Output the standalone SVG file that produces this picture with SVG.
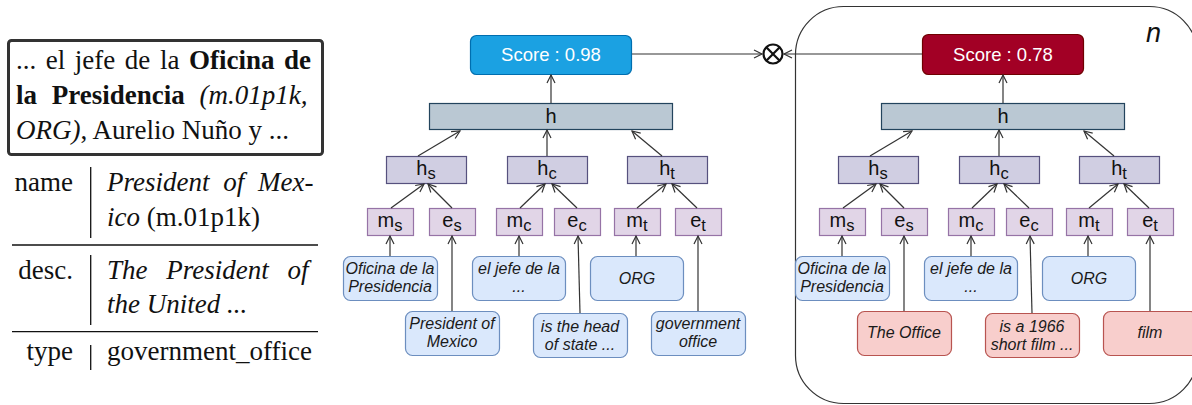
<svg xmlns="http://www.w3.org/2000/svg" width="1192" height="405" viewBox="0 0 1192 405">
<defs>
<marker id="ar" markerUnits="userSpaceOnUse" markerWidth="12" markerHeight="12" refX="9" refY="5" orient="auto">
<path d="M1,1 L9,5 L1,9" fill="none" stroke="#333" stroke-width="1.2"/>
</marker>
<style>
.tx{font-family:"Liberation Serif","Times New Roman",serif;font-size:27px;fill:#111}
.b{font-weight:bold}
.i{font-style:italic}
.rule{stroke:#111;stroke-width:1.3}
.score{font-family:"Liberation Sans",Arial,sans-serif;font-size:18.5px;fill:#fff;text-anchor:middle}
.lbl{font-family:"Liberation Sans",Arial,sans-serif;font-size:20px;fill:#111;text-anchor:middle}
.sm{font-family:"Liberation Sans",Arial,sans-serif;font-size:16px;font-style:italic;fill:#1a1a1a;text-anchor:middle}
.hbox{fill:#bac8d3;stroke:#23445d;stroke-width:1.2}
.lav{fill:#d0cee2;stroke:#56517e;stroke-width:1.2}
.pur{fill:#e1d5e7;stroke:#9673a6;stroke-width:1.2}
.blu{fill:#dae8fc;stroke:#6c8ebf;stroke-width:1.2}
.red{fill:#f8cecc;stroke:#b85450;stroke-width:1.2}
.cn line{stroke:#333;stroke-width:1.2;marker-end:url(#ar)}
</style>
</defs>
<rect width="1192" height="405" fill="#fff"/>

<g id="context">
<rect x="8.5" y="40.5" width="314" height="114" rx="3" fill="none" stroke="#333" stroke-width="3"/>
<text class="tx" x="16" y="69" word-spacing="2.8">... el jefe de la <tspan class="b">Oficina de</tspan></text>
<text class="tx" x="16" y="104" word-spacing="8"><tspan class="b">la Presidencia</tspan><tspan class="i"> (m.01p1k,</tspan></text>
<text class="tx" x="16" y="139"><tspan class="i">ORG)</tspan>, Aurelio Nuño y ...</text>
</g>

<g id="entity-table">
<text class="tx" x="73" y="191" text-anchor="end">name</text>
<text class="tx i" x="107" y="191" word-spacing="7">President of Mex-</text>
<text class="tx" x="107" y="226"><tspan class="i">ico</tspan> (m.01p1k)</text>
<line class="rule" x1="90.7" y1="167" x2="90.7" y2="238"/>
<line class="rule" x1="12" y1="245" x2="318" y2="245"/>
<text class="tx" x="73" y="279" text-anchor="end">desc.</text>
<text class="tx i" x="107" y="279" word-spacing="12">The President of</text>
<text class="tx i" x="107" y="313">the United ...</text>
<line class="rule" x1="90.7" y1="255" x2="90.7" y2="325"/>
<line class="rule" x1="12" y1="331.7" x2="318" y2="331.7"/>
<text class="tx" x="73" y="360" text-anchor="end">type</text>
<text class="tx" x="107" y="360">government_office</text>
<line class="rule" x1="90.7" y1="345" x2="90.7" y2="370"/>
</g>

<g id="plate">
<rect x="795.5" y="6.5" width="402" height="397" rx="48" fill="none" stroke="#333" stroke-width="1.2"/>
<text x="1146" y="41.5" font-family="Liberation Sans,Arial,sans-serif" font-size="27" font-style="italic" fill="#111">n</text>
</g>

<g id="otimes">
<circle cx="773" cy="54" r="9.5" fill="#fff" stroke="#111" stroke-width="2.2"/>
<line x1="766.3" y1="47.3" x2="779.7" y2="60.7" stroke="#111" stroke-width="2.2"/>
<line x1="779.7" y1="47.3" x2="766.3" y2="60.7" stroke="#111" stroke-width="2.2"/>
</g>

<g id="left-model">
<g id="score-left"><rect x="470.5" y="35.5" width="161" height="39" rx="6" fill="#1ba1e2" stroke="#006eaf" stroke-width="1.2"/><text class="score" x="551" y="61">Score : 0.98</text></g>
<g id="h-left"><rect class="hbox" x="429.5" y="103.5" width="243" height="26"/><text class="lbl" x="551" y="123">h</text></g>
<g id="hs-left"><rect class="lav" x="386.5" y="156.5" width="80" height="27"/><text class="lbl" x="426" y="175">h<tspan font-size="16.5" dy="4">s</tspan></text></g>
<g id="hc-left"><rect class="lav" x="507.5" y="156.5" width="80" height="27"/><text class="lbl" x="547" y="175">h<tspan font-size="16.5" dy="4">c</tspan></text></g>
<g id="ht-left"><rect class="lav" x="627.5" y="156.5" width="80" height="27"/><text class="lbl" x="667" y="175">h<tspan font-size="16.5" dy="4">t</tspan></text></g>
<g id="ms-left"><rect class="pur" x="367.5" y="208.5" width="46" height="27"/><text class="lbl" x="390" y="227">m<tspan font-size="16.5" dy="4">s</tspan></text></g>
<g id="es-left"><rect class="pur" x="429.5" y="208.5" width="46" height="27"/><text class="lbl" x="452" y="227">e<tspan font-size="16.5" dy="4">s</tspan></text></g>
<g id="mc-left"><rect class="pur" x="496.5" y="208.5" width="46" height="27"/><text class="lbl" x="519" y="227">m<tspan font-size="16.5" dy="4">c</tspan></text></g>
<g id="ec-left"><rect class="pur" x="554.5" y="208.5" width="46" height="27"/><text class="lbl" x="577" y="227">e<tspan font-size="16.5" dy="4">c</tspan></text></g>
<g id="mt-left"><rect class="pur" x="614.5" y="208.5" width="46" height="27"/><text class="lbl" x="637" y="227">m<tspan font-size="16.5" dy="4">t</tspan></text></g>
<g id="et-left"><rect class="pur" x="675.5" y="208.5" width="46" height="27"/><text class="lbl" x="698" y="227">e<tspan font-size="16.5" dy="4">t</tspan></text></g>
<g id="mention-left"><rect class="blu" x="343.5" y="256.5" width="94" height="44" rx="7"/><text class="sm" x="390" y="274">Oficina de la</text><text class="sm" x="390" y="292">Presidencia</text></g>
<g id="context-left"><rect class="blu" x="472.5" y="256.5" width="93" height="44" rx="7"/><text class="sm" x="519" y="274">el jefe de la</text><text class="sm" x="519" y="292">...</text></g>
<g id="type-left"><rect class="blu" x="590.5" y="256.5" width="93" height="44" rx="7"/><text class="sm" x="637" y="284">ORG</text></g>
<g id="ename-left"><rect class="blu" x="405.5" y="311.5" width="94" height="44" rx="7"/><text class="sm" x="452" y="329">President of</text><text class="sm" x="452" y="347">Mexico</text></g>
<g id="edesc-left"><rect class="blu" x="533.5" y="313.5" width="94" height="44" rx="7"/><text class="sm" x="580" y="332">is the head</text><text class="sm" x="580" y="350">of state ...</text></g>
<g id="etype-left"><rect class="blu" x="651.5" y="311.5" width="94" height="44" rx="7"/><text class="sm" x="698" y="329">government</text><text class="sm" x="698" y="347">office</text></g>
</g>

<g id="right-model">
<g id="score-right"><rect x="922.5" y="34.5" width="161" height="40" rx="6" fill="#a20025" stroke="#6f0000" stroke-width="1.2"/><text class="score" x="1003" y="61">Score : 0.78</text></g>
<g id="h-right"><rect class="hbox" x="881.5" y="103.5" width="243" height="26"/><text class="lbl" x="1003" y="123">h</text></g>
<g id="hs-right"><rect class="lav" x="838.5" y="156.5" width="80" height="27"/><text class="lbl" x="878" y="175">h<tspan font-size="16.5" dy="4">s</tspan></text></g>
<g id="hc-right"><rect class="lav" x="959.5" y="156.5" width="80" height="27"/><text class="lbl" x="999" y="175">h<tspan font-size="16.5" dy="4">c</tspan></text></g>
<g id="ht-right"><rect class="lav" x="1079.5" y="156.5" width="80" height="27"/><text class="lbl" x="1119" y="175">h<tspan font-size="16.5" dy="4">t</tspan></text></g>
<g id="ms-right"><rect class="pur" x="819.5" y="208.5" width="46" height="27"/><text class="lbl" x="842" y="227">m<tspan font-size="16.5" dy="4">s</tspan></text></g>
<g id="es-right"><rect class="pur" x="881.5" y="208.5" width="46" height="27"/><text class="lbl" x="904" y="227">e<tspan font-size="16.5" dy="4">s</tspan></text></g>
<g id="mc-right"><rect class="pur" x="948.5" y="208.5" width="46" height="27"/><text class="lbl" x="971" y="227">m<tspan font-size="16.5" dy="4">c</tspan></text></g>
<g id="ec-right"><rect class="pur" x="1006.5" y="208.5" width="46" height="27"/><text class="lbl" x="1029" y="227">e<tspan font-size="16.5" dy="4">c</tspan></text></g>
<g id="mt-right"><rect class="pur" x="1066.5" y="208.5" width="46" height="27"/><text class="lbl" x="1089" y="227">m<tspan font-size="16.5" dy="4">t</tspan></text></g>
<g id="et-right"><rect class="pur" x="1127.5" y="208.5" width="46" height="27"/><text class="lbl" x="1150" y="227">e<tspan font-size="16.5" dy="4">t</tspan></text></g>
<g id="mention-right"><rect class="blu" x="795.5" y="256.5" width="94" height="44" rx="7"/><text class="sm" x="842" y="274">Oficina de la</text><text class="sm" x="842" y="292">Presidencia</text></g>
<g id="context-right"><rect class="blu" x="924.5" y="256.5" width="93" height="44" rx="7"/><text class="sm" x="971" y="274">el jefe de la</text><text class="sm" x="971" y="292">...</text></g>
<g id="type-right"><rect class="blu" x="1042.5" y="256.5" width="93" height="44" rx="7"/><text class="sm" x="1089" y="284">ORG</text></g>
<g id="ename-right"><rect class="red" x="857.5" y="311.5" width="94" height="44" rx="7"/><text class="sm" x="904" y="338">The Office</text></g>
<g id="edesc-right"><rect class="red" x="985.5" y="313.5" width="94" height="44" rx="7"/><text class="sm" x="1032" y="332">is a 1966</text><text class="sm" x="1032" y="350">short film ...</text></g>
<g id="etype-right"><rect class="red" x="1103.5" y="311.5" width="94" height="44" rx="7"/><text class="sm" x="1150" y="338">film</text></g>
</g>

<g id="connectors" class="cn">
<line x1="632" y1="54" x2="762" y2="54"/>
<line x1="922" y1="54" x2="784" y2="54"/>
<line x1="551" y1="103" x2="551" y2="75"/>
<line x1="418" y1="156" x2="460" y2="131"/>
<line x1="547" y1="156" x2="547" y2="130"/>
<line x1="662" y1="156" x2="632" y2="131"/>
<line x1="391" y1="208" x2="424" y2="184"/>
<line x1="452" y1="208" x2="428" y2="184"/>
<line x1="520" y1="208" x2="545" y2="184"/>
<line x1="577" y1="208" x2="552" y2="184"/>
<line x1="637" y1="208" x2="666" y2="184"/>
<line x1="697" y1="208" x2="672" y2="184"/>
<line x1="390" y1="256" x2="390" y2="236"/>
<line x1="452" y1="311" x2="452" y2="236"/>
<line x1="519" y1="256" x2="519" y2="236"/>
<line x1="580" y1="313" x2="578" y2="236"/>
<line x1="636" y1="256" x2="636" y2="236"/>
<line x1="698" y1="311" x2="698" y2="236"/>
<line x1="1003" y1="103" x2="1003" y2="75"/>
<line x1="870" y1="156" x2="912" y2="131"/>
<line x1="999" y1="156" x2="999" y2="130"/>
<line x1="1114" y1="156" x2="1084" y2="131"/>
<line x1="843" y1="208" x2="876" y2="184"/>
<line x1="904" y1="208" x2="880" y2="184"/>
<line x1="972" y1="208" x2="997" y2="184"/>
<line x1="1029" y1="208" x2="1004" y2="184"/>
<line x1="1089" y1="208" x2="1118" y2="184"/>
<line x1="1149" y1="208" x2="1124" y2="184"/>
<line x1="842" y1="256" x2="842" y2="236"/>
<line x1="904" y1="311" x2="904" y2="236"/>
<line x1="971" y1="256" x2="971" y2="236"/>
<line x1="1032" y1="313" x2="1030" y2="236"/>
<line x1="1088" y1="256" x2="1088" y2="236"/>
<line x1="1150" y1="311" x2="1150" y2="236"/>
</g>
</svg>
